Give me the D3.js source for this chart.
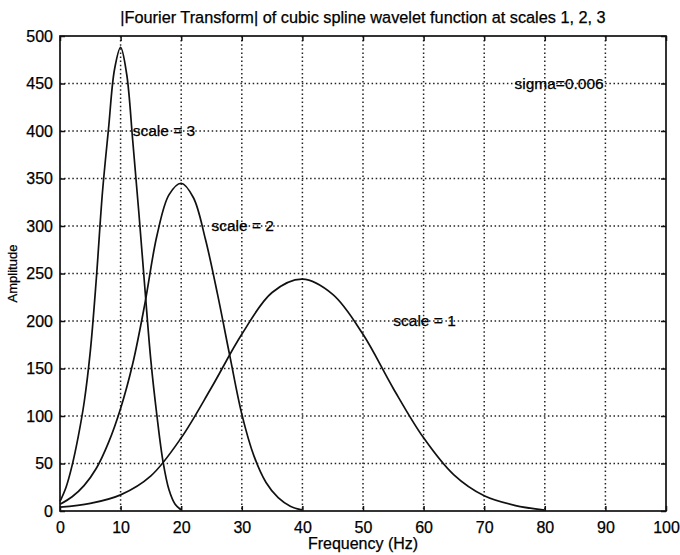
<!DOCTYPE html>
<html>
<head>
<meta charset="utf-8">
<script src="https://cdn.jsdelivr.net/npm/d3@7"></script>
<style>
    body { margin: 0; background: #fff; }
    text { font-family: "Liberation Sans", Arial, sans-serif; fill: #000; stroke: #000; stroke-width: 0.25px; }
</style>
</head>
<body>
<div id="chart"></div>
<script>
// values
const scale3Freq = [0, 1, 2, 3, 4, 5, 6, 7, 8, 9, 10, 11, 12, 13, 14, 15, 16, 17, 18, 19, 20]
const scale3Amp = [10, 25, 48, 78, 115, 168, 245, 335, 402, 465, 488, 460, 390, 315, 235, 158, 100, 52, 22, 7, 1]

const scale2Freq = [0, 2, 4, 6, 8, 10, 12, 14, 16, 18, 20, 22, 24, 26, 28, 30, 32, 34, 36, 38, 40]
const scale2Amp = [7, 15, 27, 45, 72, 108, 155, 218, 290, 333, 345, 330, 286, 228, 164, 102, 58, 30, 14, 5, 1]

const scale1Freq = [0, 5, 10, 15, 20, 25, 30, 35, 40, 45, 50, 55, 60, 65, 70, 75, 80]
const scale1Amp = [4, 8, 17, 37, 77, 130, 186, 230, 244, 228, 186, 129, 77, 38, 16, 6, 1]

const xTicks = [0, 10, 20, 30, 40, 50, 60, 70, 80, 90, 100]
const yTicks = [0, 50, 100, 150, 200, 250, 300, 350, 400, 450, 500]

const labels = [
    { text: 'scale = 3', f: 12, a: 400 },
    { text: 'scale = 2', f: 25, a: 300 },
    { text: 'scale = 1', f: 55, a: 200 },
    { text: 'sigma=0.006', f: 75, a: 450 }
]

const width = 680
const height = 555
const plotLeft = 60, plotRight = 666, plotTop = 36, plotBottom = 511

const svg = d3.select('#chart')
    .append('svg')
    .attr('width', width)
    .attr('height', height)

const x = d3.scaleLinear().domain([0, 100]).range([plotLeft, plotRight])
const y = d3.scaleLinear().domain([0, 500]).range([plotBottom, plotTop])

// dotted grid
svg.append('g')
    .selectAll('line')
    .data(xTicks.slice(1, -1))
    .join('line')
    .attr('x1', d => x(d)).attr('x2', d => x(d))
    .attr('y1', plotTop).attr('y2', plotBottom)
    .attr('stroke', '#222')
    .attr('stroke-width', 1.5)
    .attr('stroke-dasharray', '1.5,2.6')

svg.append('g')
    .selectAll('line')
    .data(yTicks.slice(1, -1))
    .join('line')
    .attr('y1', d => y(d)).attr('y2', d => y(d))
    .attr('x1', plotLeft).attr('x2', plotRight)
    .attr('stroke', '#222')
    .attr('stroke-width', 1.5)
    .attr('stroke-dasharray', '1.5,2.6')

// axes with inward ticks on all four sides
svg.append('g')
    .attr('transform', 'translate(0,' + plotBottom + ')')
    .call(d3.axisBottom(x).tickValues(xTicks).tickSizeInner(-5).tickSizeOuter(0).tickPadding(11))
svg.append('g')
    .attr('transform', 'translate(0,' + plotTop + ')')
    .call(d3.axisTop(x).tickValues(xTicks).tickSizeInner(-5).tickSizeOuter(0).tickFormat(''))
svg.append('g')
    .attr('transform', 'translate(' + plotLeft + ',0)')
    .call(d3.axisLeft(y).tickValues(yTicks).tickSizeInner(-5).tickSizeOuter(0).tickPadding(7))
svg.append('g')
    .attr('transform', 'translate(' + plotRight + ',0)')
    .call(d3.axisRight(y).tickValues(yTicks).tickSizeInner(-5).tickSizeOuter(0).tickFormat(''))

svg.selectAll('.domain').remove()
svg.selectAll('.tick line').attr('stroke', '#111').attr('stroke-width', 1.5)
svg.selectAll('.tick text').style('font-size', '16px').attr('fill', '#000')

svg.append('rect')
    .attr('x', plotLeft).attr('y', plotTop)
    .attr('width', plotRight - plotLeft).attr('height', plotBottom - plotTop)
    .attr('fill', 'none')
    .attr('stroke', '#111')
    .attr('stroke-width', 1.7)

// the three curves
const line = d3.line()
    .x(d => x(d[0]))
    .y(d => y(d[1]))
    .curve(d3.curveCatmullRom.alpha(0.5))

const series = [
    d3.zip(scale3Freq, scale3Amp),
    d3.zip(scale2Freq, scale2Amp),
    d3.zip(scale1Freq, scale1Amp)
]

svg.append('g')
    .selectAll('path')
    .data(series)
    .join('path')
    .attr('d', line)
    .attr('fill', 'none')
    .attr('stroke', '#111')
    .attr('stroke-width', 1.7)

// text annotations
svg.append('g')
    .selectAll('text')
    .data(labels)
    .join('text')
    .attr('x', d => x(d.f))
    .attr('y', d => y(d.a))
    .attr('dy', '0.35em')
    .style('font-size', '15.5px')
    .text(d => d.text)

svg.append('text')
    .attr('x', (plotLeft + plotRight) / 2)
    .attr('y', 23)
    .attr('text-anchor', 'middle')
    .style('font-size', '16.3px')
    .text('|Fourier Transform| of cubic spline wavelet function at scales 1, 2, 3')

svg.append('text')
    .attr('x', (plotLeft + plotRight) / 2)
    .attr('y', 549)
    .attr('text-anchor', 'middle')
    .style('font-size', '16px')
    .text('Frequency (Hz)')

svg.append('text')
    .attr('transform', 'translate(17,' + (plotTop + plotBottom) / 2 + ') rotate(-90)')
    .attr('text-anchor', 'middle')
    .style('font-size', '13px')
    .text('Amplitude')
</script>
</body>
</html>
